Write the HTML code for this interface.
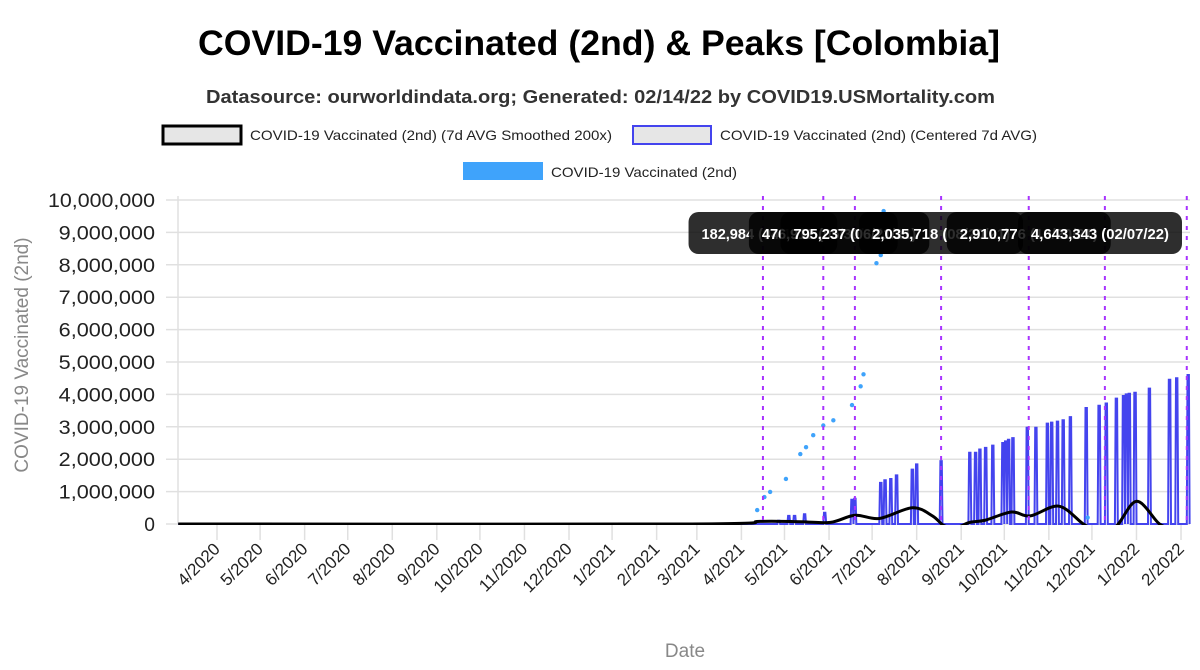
<!DOCTYPE html>
<html><head><meta charset="utf-8"><style>
html,body{margin:0;padding:0;background:#fff;width:1200px;height:670px;overflow:hidden;font-family:"Liberation Sans",sans-serif;}
</style></head><body>
<svg id="chart" width="1200" height="670" xmlns="http://www.w3.org/2000/svg" font-family="Liberation Sans, sans-serif">
<text x="198" y="55" textLength="802" lengthAdjust="spacingAndGlyphs" font-size="35" font-weight="bold" fill="#000">COVID-19 Vaccinated (2nd) &amp; Peaks [Colombia]</text>
<text x="206" y="103" textLength="789" lengthAdjust="spacingAndGlyphs" font-size="18" font-weight="bold" fill="#333">Datasource: ourworldindata.org; Generated: 02/14/22 by COVID19.USMortality.com</text>
<g font-size="14" fill="#222">
<g><rect x="163" y="126" width="78" height="18" fill="#e6e6e6" stroke="#000" stroke-width="3"/><text x="250" y="140" textLength="362" lengthAdjust="spacingAndGlyphs">COVID-19 Vaccinated (2nd) (7d AVG Smoothed 200x)</text></g>
<g><rect x="633" y="126" width="78" height="18" fill="#e6e6e6" stroke="#4444ee" stroke-width="2"/><text x="720" y="140" textLength="317" lengthAdjust="spacingAndGlyphs">COVID-19 Vaccinated (2nd) (Centered 7d AVG)</text></g>
<g><rect x="463" y="162" width="80" height="18" fill="#3fa3fb"/><text x="551" y="177" textLength="186" lengthAdjust="spacingAndGlyphs">COVID-19 Vaccinated (2nd)</text></g>
</g>
<g id="grid"></g>
<g id="yaxis"></g>
<g id="xaxis"></g>
<defs><clipPath id="plotclip"><rect x="178" y="195" width="1015" height="330"/></clipPath></defs>
<g id="series" clip-path="url(#plotclip)"></g>
<g id="peaks"></g>
<text transform="translate(28,355) rotate(-90)" text-anchor="middle" font-size="19" fill="#888">COVID-19 Vaccinated (2nd)</text>
<text x="685" y="657" text-anchor="middle" font-size="19" fill="#888">Date</text>
</svg>
<script>
// days are counted from 2020-04-01
const yTicks = [0,1000000,2000000,3000000,4000000,5000000,6000000,7000000,8000000,9000000,10000000];
const monthLabels = ["4/2020","5/2020","6/2020","7/2020","8/2020","9/2020","10/2020","11/2020","12/2020","1/2021","2/2021","3/2021","4/2021","5/2021","6/2021","7/2021","8/2021","9/2021","10/2021","11/2021","12/2021","1/2022","2/2022"];
const monthDays = [0,30,61,91,122,153,183,214,245,275,306,334,365,395,426,456,487,518,548,579,609,640,671];
const rawDays = [376,381,385,396,406,410,415,422,429,442,448,450,459,462,464,606];
const rawValues = [430000,830000,990000,1390000,2160000,2370000,2740000,3040000,3200000,3670000,4250000,4620000,8050000,8300000,9660000,200000];
const spikeDays = [391,398,402,409,423,442,444,462,465,469,473,484,487,504,524,528,531,535,540,547,549,551,554,564,570,578,581,585,589,594,605,614,619,626,631,633,635,639,649,663,668,676];
const spikeValues = [100000,250000,250000,300000,350000,750000,780000,1270000,1350000,1390000,1500000,1680000,1840000,1940000,2200000,2200000,2300000,2350000,2420000,2500000,2550000,2600000,2650000,2970000,2970000,3100000,3130000,3160000,3200000,3300000,3580000,3650000,3720000,3870000,3950000,4000000,4020000,4050000,4180000,4450000,4500000,4600000];
const smoothDays = [-27,330,378,406,427,444,461,484,498,506,515,524,535,553,566,586,603,610,625,640,656,665,677];
const smoothValues = [0,0,80000,70000,50000,270000,170000,500000,250000,-50000,-100000,50000,120000,370000,250000,550000,0,-100000,-100000,700000,0,-100000,-100000];
const peakDays = [380,422,444,504,565,618];
const peakLabels = ["182,984 (04/18/21)","476,912 (05/30/21)","795,237 (06/21/21)","2,035,718 (08/20/21)","2,910,776 (10/20/21)","4,643,343 (02/07/22)"];
const peakLineDays = [380,422,444,504,565,618,675];

const NS="http://www.w3.org/2000/svg";
const X0=178,X1=1190,Y0=524,Y1=200;
const xs=d=>217+d*1.4367;
const ys=v=>Y0-(v/10000000)*(Y0-Y1);
function mk(tag,attrs,parent){const e=document.createElementNS(NS,tag);for(const k in attrs)e.setAttribute(k,attrs[k]);parent.appendChild(e);return e;}
const grid=document.getElementById('grid'),ya=document.getElementById('yaxis'),xa=document.getElementById('xaxis'),ser=document.getElementById('series'),pk=document.getElementById('peaks');
yTicks.forEach(v=>{
  const l=mk('line',{x1:X0-12,x2:X1,y1:ys(v),y2:ys(v),stroke:'#e0e0e0','stroke-width':1.5},grid);
  
  
  const s=v.toLocaleString('en-US');
  const t=mk('text',{x:155,y:ys(v)+7,'text-anchor':'end','font-size':19,fill:'#222',textLength:s.length*10.7,lengthAdjust:'spacingAndGlyphs'},ya);
  t.textContent=s;
  
  
});
mk('line',{x1:X0,x2:X0,y1:Y1-4,y2:Y0,stroke:'#e0e0e0','stroke-width':1.5},grid);
monthDays.forEach((d,i)=>{
  const x=xs(d);
  const l=mk('line',{x1:x,x2:x,y1:Y0,y2:Y0+16,stroke:'#e0e0e0','stroke-width':1.5},xa);
  
  
  const t=mk('text',{transform:`translate(${x+4},${Y0+26}) rotate(-45)`,'text-anchor':'end','font-size':17,fill:'#222'},xa);
  t.textContent=monthLabels[i];
  
  
});
let pts=[[xs(-27),ys(0)]];
spikeDays.forEach((d,i)=>{pts.push([xs(d-1),ys(0)],[xs(d-0.5),ys(spikeValues[i])],[xs(d+0.5),ys(spikeValues[i])],[xs(d+1),ys(0)]);});
pts.push([xs(677),ys(0)]);
const avg=mk('path',{d:'M'+pts.map(p=>p[0].toFixed(1)+','+p[1].toFixed(1)).join('L'),fill:'none',stroke:'#4444ee','stroke-width':2},ser);


const sp=smoothDays.map((d,i)=>[xs(d),ys(smoothValues[i])]);
let dd='M'+sp[0][0]+','+sp[0][1];
for(let i=0;i<sp.length-1;i++){const p0=sp[Math.max(0,i-1)],p1=sp[i],p2=sp[i+1],p3=sp[Math.min(sp.length-1,i+2)];
 dd+=`C${p1[0]+(p2[0]-p0[0])/6},${p1[1]+(p2[1]-p0[1])/6} ${p2[0]-(p3[0]-p1[0])/6},${p2[1]-(p3[1]-p1[1])/6} ${p2[0]},${p2[1]}`;}
const sm=mk('path',{d:dd,fill:'none',stroke:'#000','stroke-width':3},ser);


rawDays.forEach((d,i)=>{
  const c=mk('circle',{cx:xs(d),cy:ys(rawValues[i]),r:2.2,fill:'#3fa3fb'},ser);
  
  
});
peakLineDays.forEach(d=>{
  const l=mk('line',{x1:xs(d),x2:xs(d),y1:196,y2:Y0,stroke:'#a833ff','stroke-width':2,'stroke-dasharray':'4,6'},pk);
  
  
});
peakDays.forEach((d,i)=>{
  const w=peakLabels[i].length*7.6+12;
  const cx=Math.min(xs(d),1182-w/2);
  const g=mk('g',{},pk);
  
  
  mk('rect',{x:cx-w/2,y:212,width:w,height:42,rx:10,fill:'rgba(0,0,0,0.82)'},g);
  const t=mk('text',{x:cx,y:239,'text-anchor':'middle','font-size':15,'font-weight':'bold',fill:'#fff',textLength:w-26,lengthAdjust:'spacingAndGlyphs'},g);
  t.textContent=peakLabels[i];
});
</script>
</body></html>
